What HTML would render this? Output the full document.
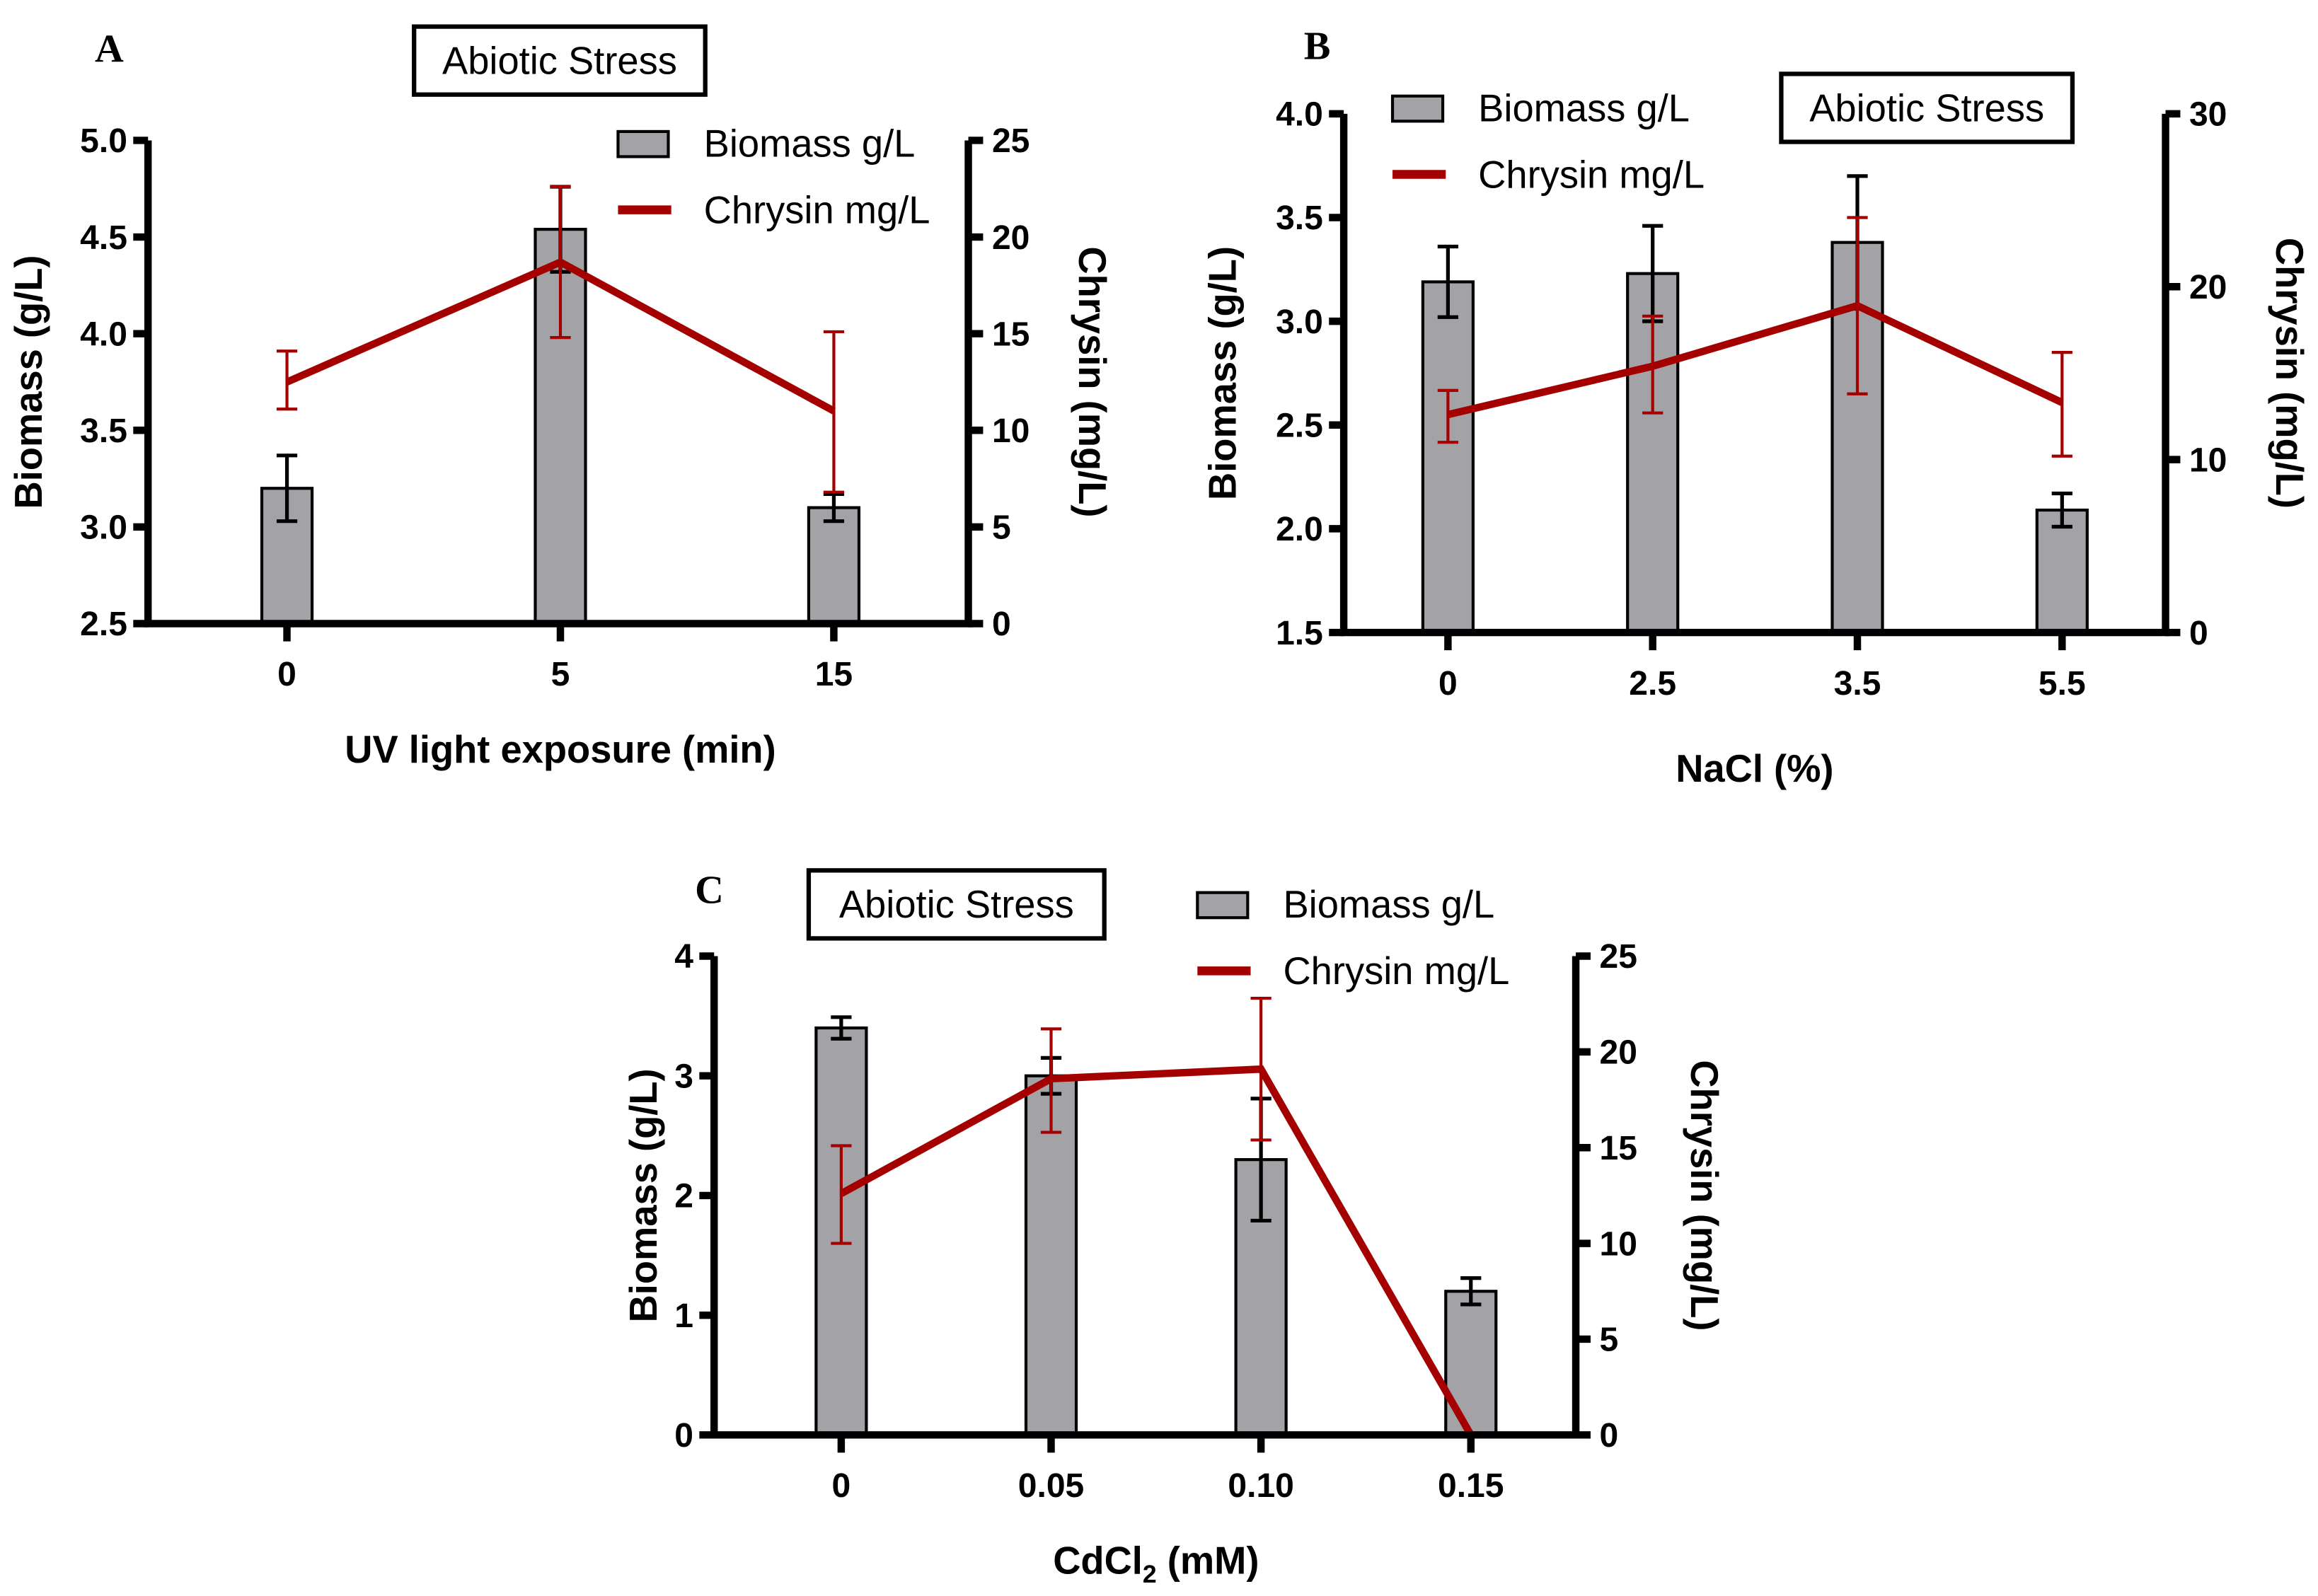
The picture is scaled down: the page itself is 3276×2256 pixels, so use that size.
<!DOCTYPE html>
<html><head><meta charset="utf-8"><style>
html,body{margin:0;padding:0;background:#fff}
svg{display:block}
text{font-family:"Liberation Sans",Arial,sans-serif}
</style></head><body>
<svg id="fig" xmlns="http://www.w3.org/2000/svg" width="3276" height="2256" viewBox="0 0 1568 1080"></svg>
<script>
// Panel A data
const catsA = ["0","5","15"];
const bioA = [3.2, 4.54, 3.1];
const bioErrA = [0.17, 0.22, 0.07];
const chrA = [12.5, 18.7, 11.0];
const chrHiA = [14.1, 22.6, 15.1];
const chrLoA = [11.1, 14.8, 6.8];
const leftTicksA = ["2.5","3.0","3.5","4.0","4.5","5.0"];
const rightTicksA = ["0","5","10","15","20","25"];
// Panel B data
const catsB = ["0","2.5","3.5","5.5"];
const bioB = [3.19, 3.23, 3.38, 2.09];
const bioErrB = [0.17, 0.23, 0.32, 0.08];
const chrB = [12.6, 15.4, 18.9, 13.3];
const chrHiB = [14.0, 18.3, 24.0, 16.2];
const chrLoB = [11.0, 12.7, 13.8, 10.2];
const leftTicksB = ["1.5","2.0","2.5","3.0","3.5","4.0"];
const rightTicksB = ["0","10","20","30"];
// Panel C data
const catsC = ["0","0.05","0.10","0.15"];
const bioC = [3.4, 3.0, 2.3, 1.2];
const bioErrC = [0.09, 0.15, 0.51, 0.11];
const chrC = [12.6, 18.6, 19.1, 0];
const chrHiC = [15.1, 21.2, 22.8, 0];
const chrLoC = [10.0, 15.8, 15.4, 0];
const leftTicksC = ["0","1","2","3","4"];
const rightTicksC = ["0","5","10","15","20","25"];

const NS = "http://www.w3.org/2000/svg";
const svg = document.getElementById("fig");
const RED = "#a50000";
function mk(tag, attrs, parent, txt){
  const e = document.createElementNS(NS, tag);
  for (const k in attrs) e.setAttribute(k, attrs[k]);
  if (txt !== undefined) e.textContent = txt;
  (parent||svg).appendChild(e);
  return e;
}
function panel(p){
  const g = mk("g", {});
  
  
  const lmin = parseFloat(p.lt[0]), lmax = parseFloat(p.lt[p.lt.length-1]);
  const rmin = parseFloat(p.rt[0]), rmax = parseFloat(p.rt[p.rt.length-1]);
  const yL = v => p.yb - (v - lmin)/(lmax - lmin)*(p.yb - p.yt);
  const yR = v => p.yb - (v - rmin)/(rmax - rmin)*(p.yb - p.yt);
  const xC = i => p.cx0 + i*p.dx;
  p.bio.forEach((v,i)=>{
    const b = mk("rect",{x:xC(i)-17,y:yL(v),width:34,height:p.yb-yL(v),fill:"#a3a2a6",stroke:"#000","stroke-width":2},g);
    
    
    const e = mk("path",{d:`M${xC(i)},${yL(v-p.be[i])}V${yL(v+p.be[i])}M${xC(i)-7},${yL(v-p.be[i])}h14M${xC(i)-7},${yL(v+p.be[i])}h14`,stroke:"#000","stroke-width":2.5,fill:"none"},g);
    
    
  });
  const pts = p.chr.map((v,i)=>xC(i)+","+yR(v)).join(" ");
  const ln = mk("polyline",{points:pts,fill:"none",stroke:RED,"stroke-width":5},g);
  
  
  p.chr.forEach((v,i)=>{
    if (p.hi[i]===p.lo[i]) return;
    const e = mk("path",{d:`M${xC(i)},${yR(p.lo[i])}V${yR(p.hi[i])}M${xC(i)-7},${yR(p.lo[i])}h14M${xC(i)-7},${yR(p.hi[i])}h14`,stroke:RED,"stroke-width":2,fill:"none"},g);
    
    
  });
  const ax = mk("path",{d:`M${p.xl},${p.yt}V${p.yb}H${p.xr}V${p.yt}`,stroke:"#000","stroke-width":5,fill:"none"},g);
  
  
  p.lt.forEach(t=>{
    const y=yL(parseFloat(t));
    mk("line",{x1:p.xl-10,x2:p.xl,y1:y,y2:y,stroke:"#000","stroke-width":5},g);
    const tx=mk("text",{x:p.xl-14,y:y+8,"text-anchor":"end","font-size":23,"font-weight":"bold"},g,t);
    
    
  });
  p.rt.forEach(t=>{
    const y=yR(parseFloat(t));
    mk("line",{x1:p.xr,x2:p.xr+10,y1:y,y2:y,stroke:"#000","stroke-width":5},g);
    const tx=mk("text",{x:p.xr+16,y:y+8,"font-size":23,"font-weight":"bold"},g,t);
    
    
  });
  p.cats.forEach((c,i)=>{
    mk("line",{x1:xC(i),x2:xC(i),y1:p.yb,y2:p.yb+12,stroke:"#000","stroke-width":5},g);
    const tx=mk("text",{x:xC(i),y:p.yb+42,"text-anchor":"middle","font-size":23,"font-weight":"bold"},g,c);
    
    
  });
  const cy=(p.yt+p.yb)/2;
  const yt=mk("text",{x:p.ylx,y:cy,"text-anchor":"middle","font-size":26,"font-weight":"bold",transform:`rotate(-90 ${p.ylx} ${cy})`},g,"Biomass (g/L)");
  
  
  const rt=mk("text",{x:p.yrx,y:cy,"text-anchor":"middle","font-size":26,"font-weight":"bold",transform:`rotate(90 ${p.yrx} ${cy})`},g,"Chrysin (mg/L)");
  
  
  const xt=mk("text",{x:p.xtx,y:p.xty,"text-anchor":"middle","font-size":26,"font-weight":"bold"},g,p.xtitle);
  
  
  if (p.sub){ mk("tspan",{"font-size":17,dy:6},xt,"2"); mk("tspan",{dy:-6},xt," (mM)"); }
  const lg=mk("g",{},g);
  
  
  mk("rect",{x:p.lgx,y:p.lgy-8,width:34,height:17,fill:"#a3a2a6",stroke:"#000","stroke-width":2},lg);
  mk("text",{x:p.lgx+58,y:p.lgy+9,"font-size":26},lg,"Biomass g/L");
  mk("line",{x1:p.lgx,x2:p.lgx+36,y1:p.lgy+45,y2:p.lgy+45,stroke:RED,"stroke-width":6},lg);
  mk("text",{x:p.lgx+58,y:p.lgy+54,"font-size":26},lg,"Chrysin mg/L");
  const tb=mk("g",{},g);
  
  
  mk("rect",{x:p.tbx,y:p.tby,width:p.tbw,height:46,fill:"#fff",stroke:"#000","stroke-width":3},tb);
  mk("text",{x:p.tbx+p.tbw/2,y:p.tby+32,"text-anchor":"middle","font-size":26},tb,"Abiotic Stress");
  const pl=mk("text",{x:p.lx,y:p.ly,"font-size":27,"font-weight":"bold",style:"font-family:'Liberation Serif',serif"},g,p.letter);
  
  
}
panel({name:"panel-a",cats:catsA,bio:bioA,be:bioErrA,chr:chrA,hi:chrHiA,lo:chrLoA,lt:leftTicksA,rt:rightTicksA,
  xl:100,xr:655,yt:95,yb:422,cx0:194,dx:185,ylx:28,yrx:730,xtx:379,xty:516,xtitle:"UV light exposure (min)",
  lgx:418,lgy:97,tbx:280,tby:18,tbw:197,lx:64,ly:42,letter:"A"});
panel({name:"panel-b",cats:catsB,bio:bioB,be:bioErrB,chr:chrB,hi:chrHiB,lo:chrLoB,lt:leftTicksB,rt:rightTicksB,
  xl:909,xr:1465,yt:77,yb:428,cx0:979.5,dx:138.5,ylx:836,yrx:1540,xtx:1187,xty:529,xtitle:"NaCl (%)",
  lgx:942,lgy:73,tbx:1205,tby:50,tbw:197,lx:882,ly:40,letter:"B"});
panel({name:"panel-c",cats:catsC,bio:bioC,be:bioErrC,chr:chrC,hi:chrHiC,lo:chrLoC,lt:leftTicksC,rt:rightTicksC,
  xl:483,xr:1066,yt:647,yb:971,cx0:569,dx:142,ylx:444,yrx:1144,xtx:782,xty:1065,xtitle:"CdCl",sub:true,
  lgx:810,lgy:612,tbx:547,tby:589,tbw:200,lx:470,ly:611,letter:"C"});
</script>
</body></html>
